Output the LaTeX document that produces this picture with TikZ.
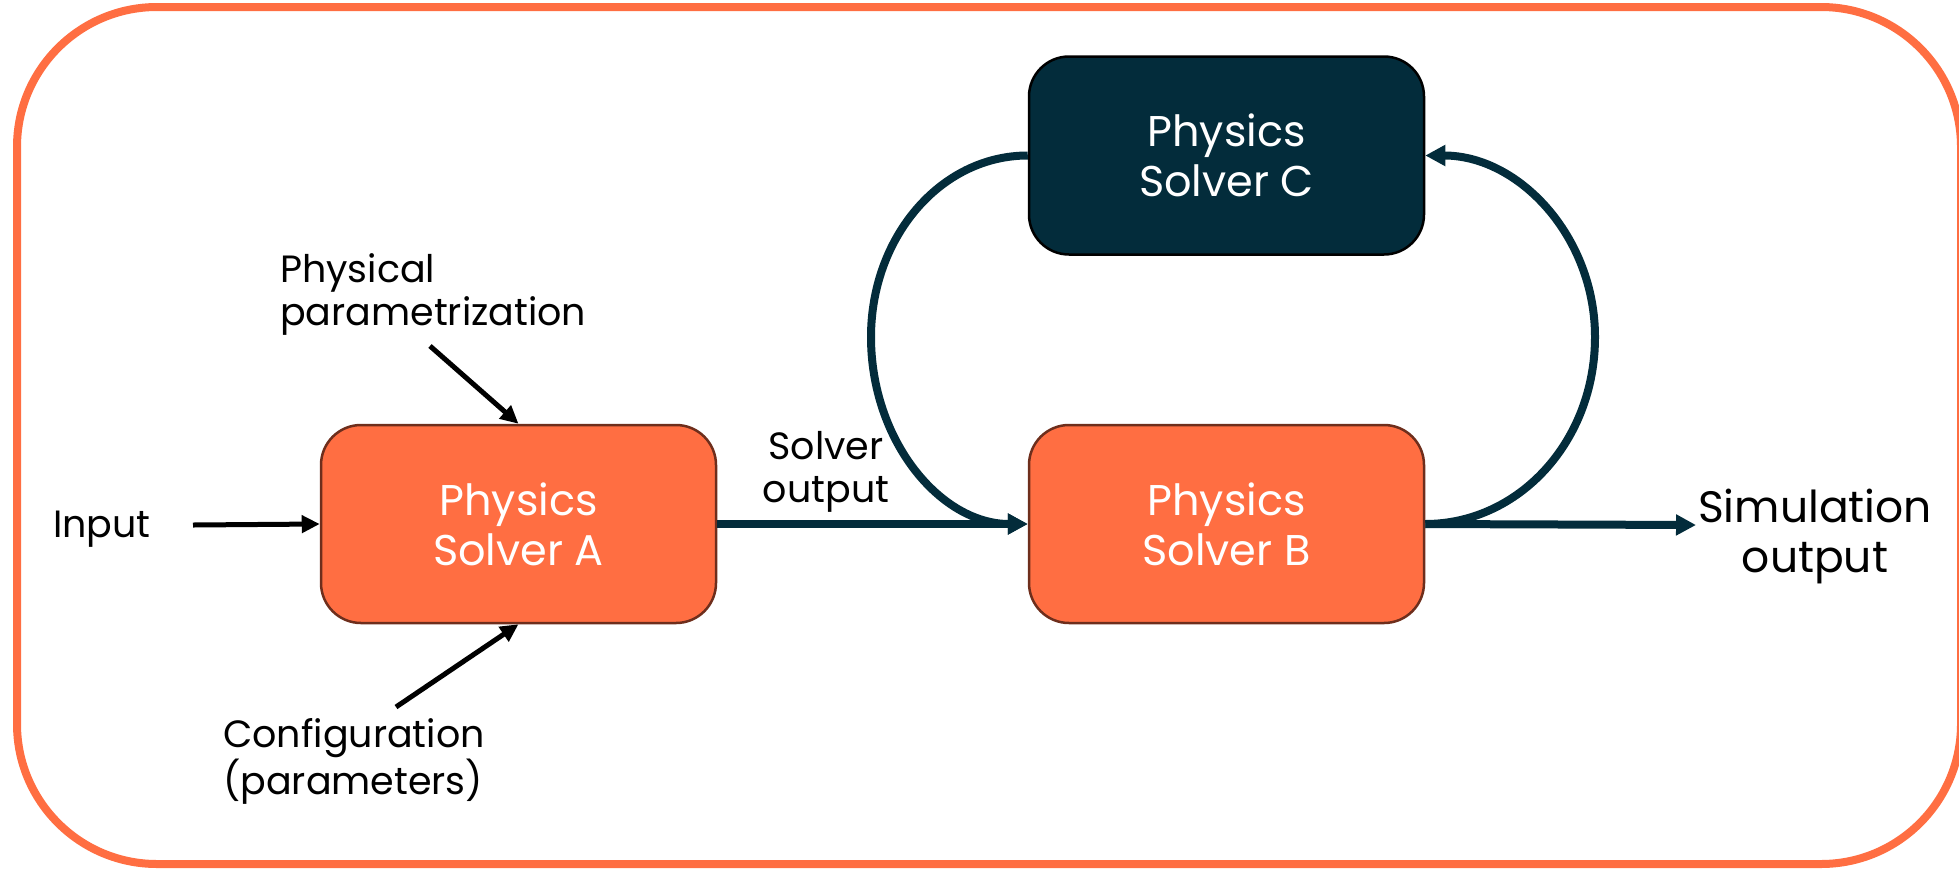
\documentclass[tikz,border=0pt]{standalone}
\usepackage{fontspec}
\setmainfont{Poppins}
\usetikzlibrary{arrows.meta}
\definecolor{orng}{HTML}{FF6E42}
\definecolor{brdr}{HTML}{6E2E1C}
\definecolor{teal}{HTML}{032C3B}
\tikzset{
  frame/.style={draw=orng, line width=8pt, rounded corners=140pt},
  solver/.style={rectangle, rounded corners=40pt, minimum width=395pt, minimum height=198pt,
    fill=orng, draw=brdr, line width=2.5pt, text=white, align=center,
    font=\fontsize{43}{50}\selectfont},
  solverdark/.style={solver, fill=teal, draw=black},
  lbl/.style={inner sep=0pt, text=black, font=\fontsize{38}{43}\selectfont},
  inarrow/.style={draw=black, line width=5pt, -{Triangle[length=18pt,width=17pt]}},
  flow/.style={draw=teal, line width=8pt, -{Triangle[length=20pt,width=20pt]}},
}
\begin{document}
\begin{tikzpicture}[x=1pt,y=-1pt]
\useasboundingbox (0,0) rectangle (1959,868);
\draw[frame] (17,7) rectangle (1961,864);

\node[solver] (A) at (518.5,524) {Physics\\Solver A};
\node[solver] (B) at (1226.5,524) {Physics\\Solver B};
\node[solverdark] (C) at (1226.5,155.5) {Physics\\Solver C};

\node[lbl, anchor=base west] (in) at (53,537) {Input};
\node[lbl, anchor=base west, align=left] (pp) at (280,325) {Physical\\parametrization};
\node[lbl, anchor=base west, align=left, font=\fontsize{38}{41}\selectfont] (cf) at (223,794) {Configuration\\(parameters)};
\node[lbl, anchor=base, align=center] (so) at (826,502) {Solver\\output};
\node[lbl, anchor=base, align=center, font=\fontsize{44}{50}\selectfont] (sim) at (1815,572) {Simulation\\output};

\coordinate (inS) at (193,525);
\coordinate (ppS) at (430,346);
\coordinate (cfS) at (396,707);
\coordinate (simE) at (1696,525);
\coordinate (lm) at (871,337);
\coordinate (rm) at (1595,337);

\draw[inarrow] (inS) -- (A.west);
\draw[inarrow] (ppS) -- (A.north);
\draw[inarrow] (cfS) -- (A.south);

\draw[flow] (A.east) -- (B.west);
\draw[flow] (B.east) -- (simE);
\draw[flow] (C.west) .. controls +(-87,0) and +(0,-100) .. (lm)
  .. controls +(0,104) and +(-87,0) .. (B.west);
\draw[flow] (B.east) .. controls +(94,0) and +(0,104) .. (rm)
  .. controls +(0,-100) and +(94,0) .. (C.east);
\end{tikzpicture}
\end{document}
